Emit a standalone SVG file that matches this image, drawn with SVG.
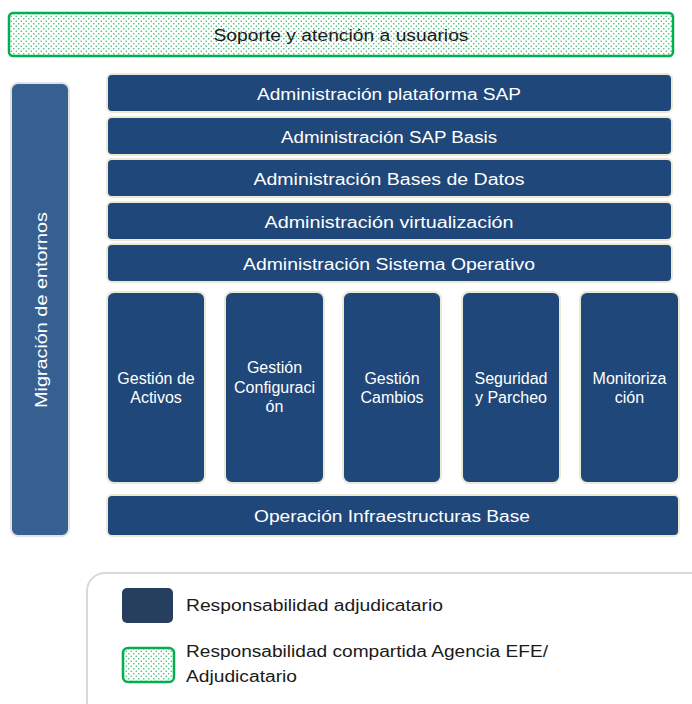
<svg xmlns="http://www.w3.org/2000/svg" width="692" height="704" viewBox="0 0 692 704">
<defs>
<pattern id="dots" width="5" height="5" patternUnits="userSpaceOnUse">
<rect width="5" height="5" fill="#ffffff"/>
<circle cx="1.25" cy="1.25" r="0.75" fill="#2eb463"/>
<circle cx="3.75" cy="3.75" r="0.75" fill="#2eb463"/>
</pattern>
</defs>
<style>
.box{fill:#1f477a;stroke:#ece8d6;stroke-width:2}
.side{fill:#375f91;stroke:#e2e2e2;stroke-width:2}
.shared{fill:url(#dots);stroke:#00b050;stroke-width:2.5}
.lbl{font-family:"Liberation Sans",Arial,sans-serif;font-size:16px;fill:#ffffff;text-anchor:middle;dominant-baseline:central}
.col{font-family:"Liberation Sans",Arial,sans-serif;font-size:16px;fill:#ffffff;text-anchor:middle}
.dark{font-family:"Liberation Sans",Arial,sans-serif;font-size:16px;fill:#1a1a1a}
</style>
<rect width="692" height="704" fill="#ffffff"/>

<g id="soporte">
<rect class="shared" x="9" y="13" width="664" height="43" rx="4"/>
<text class="dark" x="341" y="35" text-anchor="middle" dominant-baseline="central" textLength="255" lengthAdjust="spacingAndGlyphs">Soporte y atención a usuarios</text>
</g>

<g id="migracion">
<rect class="side" x="11" y="83" width="58" height="453" rx="7"/>
<text class="lbl" transform="translate(41,310) rotate(-90)" textLength="196" lengthAdjust="spacingAndGlyphs">Migración de entornos</text>
</g>

<g id="plataforma">
<rect class="box" x="107" y="74" width="565" height="38" rx="5"/>
<text class="lbl" x="389" y="94" textLength="264" lengthAdjust="spacingAndGlyphs">Administración plataforma SAP</text>
</g>
<g id="basis">
<rect class="box" x="107" y="117" width="565" height="38" rx="5"/>
<text class="lbl" x="389" y="137" textLength="216" lengthAdjust="spacingAndGlyphs">Administración SAP Basis</text>
</g>
<g id="bbdd">
<rect class="box" x="107" y="159" width="565" height="38" rx="5"/>
<text class="lbl" x="389" y="179" textLength="271" lengthAdjust="spacingAndGlyphs">Administración Bases de Datos</text>
</g>
<g id="virtualizacion">
<rect class="box" x="107" y="202" width="565" height="38" rx="5"/>
<text class="lbl" x="389" y="222" textLength="249" lengthAdjust="spacingAndGlyphs">Administración virtualización</text>
</g>
<g id="so">
<rect class="box" x="107" y="244" width="565" height="38" rx="5"/>
<text class="lbl" x="389" y="264" textLength="292" lengthAdjust="spacingAndGlyphs">Administración Sistema Operativo</text>
</g>

<g id="activos">
<rect class="box" x="107" y="292" width="98" height="191" rx="7"/>
<text class="col" x="156" y="384">Gestión de</text>
<text class="col" x="156" y="403">Activos</text>
</g>
<g id="configuracion">
<rect class="box" x="225" y="292" width="99" height="191" rx="7"/>
<text class="col" x="274.5" y="373">Gestión</text>
<text class="col" x="274.5" y="393">Configuraci</text>
<text class="col" x="274.5" y="412">ón</text>
</g>
<g id="cambios">
<rect class="box" x="343" y="292" width="98" height="191" rx="7"/>
<text class="col" x="392" y="384">Gestión</text>
<text class="col" x="392" y="403">Cambios</text>
</g>
<g id="seguridad">
<rect class="box" x="462" y="292" width="98" height="191" rx="7"/>
<text class="col" x="511" y="384">Seguridad</text>
<text class="col" x="511" y="403">y Parcheo</text>
</g>
<g id="monitorizacion">
<rect class="box" x="580" y="292" width="99" height="191" rx="7"/>
<text class="col" x="629.5" y="384">Monitoriza</text>
<text class="col" x="629.5" y="403">ción</text>
</g>

<g id="infraestructuras">
<rect class="box" x="107" y="495" width="572" height="41" rx="5"/>
<text class="lbl" x="392" y="516" textLength="276" lengthAdjust="spacingAndGlyphs">Operación Infraestructuras Base</text>
</g>

<g id="connectors"></g>

<g id="legend">
<rect x="87" y="573" width="640" height="160" rx="18" fill="#ffffff" stroke="#d9d9d9" stroke-width="2"/>
<rect x="122" y="588" width="51" height="35" rx="5" fill="#263f5f"/>
<text class="dark" x="186" y="605" dominant-baseline="central" textLength="257" lengthAdjust="spacingAndGlyphs">Responsabilidad  adjudicatario</text>
<rect class="shared" x="123" y="648" width="51" height="34" rx="5"/>
<text class="dark" x="186" y="651" dominant-baseline="central" textLength="362" lengthAdjust="spacingAndGlyphs">Responsabilidad  compartida Agencia EFE/</text>
<text class="dark" x="186" y="676" dominant-baseline="central" textLength="111" lengthAdjust="spacingAndGlyphs">Adjudicatario</text>
</g>
</svg>
